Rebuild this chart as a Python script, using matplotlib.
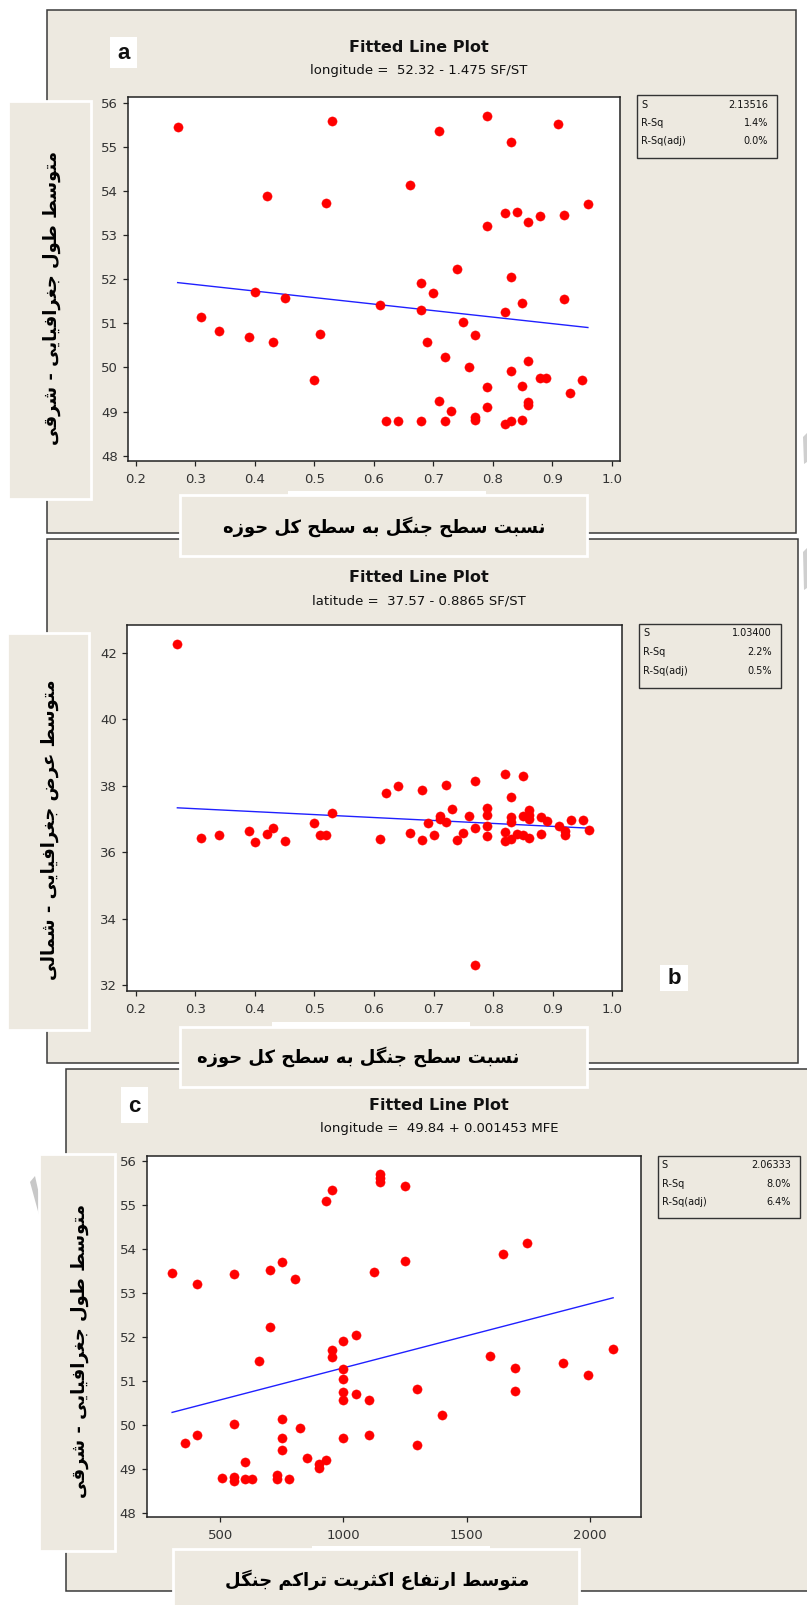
import matplotlib
matplotlib.use("Agg")
import matplotlib.pyplot as plt
from matplotlib.patches import Rectangle, Polygon
import numpy as np

# ---------------- DATA ----------------
# Panel a: SF/ST vs longitude
sfst_a = [0.27, 0.53, 0.71, 0.79, 0.83, 0.91, 0.42, 0.52, 0.66, 0.96,
          0.82, 0.84, 0.86, 0.88, 0.92, 0.79, 0.74, 0.83, 0.68, 0.70,
          0.40, 0.45, 0.61, 0.68, 0.82, 0.85, 0.92, 0.31, 0.34, 0.39,
          0.43, 0.51, 0.75, 0.77, 0.69, 0.72, 0.76, 0.86, 0.83, 0.88,
          0.89, 0.50, 0.95, 0.85, 0.79, 0.93, 0.71, 0.86, 0.86, 0.73,
          0.79, 0.62, 0.64, 0.68, 0.72, 0.77, 0.77, 0.82, 0.83, 0.85]
lon_a = [55.44, 55.59, 55.35, 55.70, 55.10, 55.51, 53.89, 53.73, 54.13, 53.70,
         53.49, 53.52, 53.30, 53.42, 53.45, 53.21, 52.22, 52.06, 51.91, 51.69,
         51.72, 51.57, 51.41, 51.29, 51.26, 51.45, 51.54, 51.14, 50.82, 50.70,
         50.57, 50.76, 51.04, 50.73, 50.57, 50.24, 50.02, 50.14, 49.92, 49.77,
         49.77, 49.71, 49.71, 49.59, 49.55, 49.43, 49.24, 49.22, 49.15, 49.02,
         49.11, 48.78, 48.78, 48.78, 48.78, 48.87, 48.81, 48.72, 48.78, 48.81]
fit_a = (52.32, -1.475)
stats_a = [("S", "2.13516"), ("R-Sq", "1.4%"), ("R-Sq(adj)", "0.0%")]

# Panel b: SF/ST vs latitude
sfst_b = [0.27, 0.31, 0.34, 0.39, 0.40, 0.42, 0.43, 0.45, 0.50, 0.51,
          0.52, 0.53, 0.61, 0.62, 0.64, 0.66, 0.68, 0.68, 0.69, 0.70,
          0.71, 0.71, 0.72, 0.72, 0.73, 0.74, 0.75, 0.76, 0.77, 0.77,
          0.77, 0.79, 0.79, 0.79, 0.79, 0.82, 0.82, 0.82, 0.83, 0.83,
          0.83, 0.83, 0.85, 0.85, 0.84, 0.85, 0.86, 0.86, 0.86, 0.86,
          0.88, 0.88, 0.89, 0.91, 0.92, 0.92, 0.93, 0.95, 0.96]
lat_b = [42.27, 36.42, 36.50, 36.62, 36.29, 36.54, 36.71, 36.34, 36.86, 36.50,
         36.50, 37.16, 36.38, 37.78, 37.99, 36.58, 37.87, 36.37, 36.87, 36.50,
         37.09, 37.00, 38.03, 36.91, 37.30, 36.37, 36.58, 37.09, 38.15, 36.71,
         32.59, 37.34, 37.12, 36.79, 36.49, 38.36, 36.59, 36.33, 37.66, 37.06,
         36.91, 36.39, 38.28, 37.09, 36.55, 36.51, 37.12, 37.26, 37.00, 36.43,
         37.06, 36.54, 36.92, 36.79, 36.63, 36.50, 36.96, 36.96, 36.67]
fit_b = (37.57, -0.8865)
stats_b = [("S", "1.03400"), ("R-Sq", "2.2%"), ("R-Sq(adj)", "0.5%")]

# Panel c: MFE vs longitude
mfe_c = [304, 405, 358, 405, 554, 554, 507, 554, 554, 602,
         602, 630, 656, 703, 703, 751, 804, 751, 751, 751,
         730, 730, 779, 825, 852, 900, 900, 927, 927, 953,
         953, 953, 1000, 1049, 1000, 1000, 1000, 1000, 1049, 1102,
         1000, 1102, 1123, 1150, 1150, 1150, 1251, 1251, 1298, 1298,
         1400, 1595, 1649, 1744, 1698, 1698, 1893, 1995, 2095]
lon_c = [53.45, 53.20, 49.58, 49.77, 53.42, 50.02, 48.80, 48.81, 48.72, 49.15,
         48.78, 48.78, 51.44, 53.51, 52.21, 53.70, 53.30, 50.13, 49.70, 49.42,
         48.86, 48.77, 48.78, 49.92, 49.24, 49.11, 49.02, 49.21, 55.09, 55.34,
         51.70, 51.53, 51.90, 52.05, 51.27, 51.03, 50.74, 50.57, 50.70, 50.57,
         49.70, 49.77, 53.48, 55.69, 55.60, 55.51, 55.43, 53.73, 50.82, 49.55,
         50.23, 51.56, 53.88, 54.13, 51.28, 50.76, 51.41, 51.13, 51.72]
fit_c = (49.84, 0.001453)
stats_c = [("S", "2.06333"), ("R-Sq", "8.0%"), ("R-Sq(adj)", "6.4%")]

titles = ["Fitted Line Plot", "Fitted Line Plot", "Fitted Line Plot"]
subtitles = ["longitude =  52.32 - 1.475 SF/ST",
             "latitude =  37.57 - 0.8865 SF/ST",
             "longitude =  49.84 + 0.001453 MFE"]
ylabels = ["متوسط طول جغرافیایی - شرقی",
           "متوسط عرض جغرافیایی - شمالی",
           "متوسط طول جغرافیایی - شرقی"]
xlabels = ["نسبت سطح جنگل به سطح کل حوزه",
           "نسبت سطح جنگل به سطح کل حوزه",
           "متوسط ارتفاع اکثریت تراکم جنگل"]
letters = ["a", "b", "c"]
xticks_ab = [0.2, 0.3, 0.4, 0.5, 0.6, 0.7, 0.8, 0.9, 1.0]
yticks_a = [48, 49, 50, 51, 52, 53, 54, 55, 56]
yticks_b = [32, 34, 36, 38, 40, 42]
xticks_c = [500, 1000, 1500, 2000]
yticks_c = [48, 49, 50, 51, 52, 53, 54, 55, 56]

# ---------------- Arabic shaping (presentation forms) ----------------
FORMS = {
    '\u0627': ('\uFE8D', '\uFE8E', None, None),
    '\u0628': ('\uFE8F', '\uFE90', '\uFE91', '\uFE92'),
    '\u062A': ('\uFE95', '\uFE96', '\uFE97', '\uFE98'),
    '\u062B': ('\uFE99', '\uFE9A', '\uFE9B', '\uFE9C'),
    '\u062C': ('\uFE9D', '\uFE9E', '\uFE9F', '\uFEA0'),
    '\u062D': ('\uFEA1', '\uFEA2', '\uFEA3', '\uFEA4'),
    '\u062F': ('\uFEA9', '\uFEAA', None, None),
    '\u0631': ('\uFEAD', '\uFEAE', None, None),
    '\u0632': ('\uFEAF', '\uFEB0', None, None),
    '\u0633': ('\uFEB1', '\uFEB2', '\uFEB3', '\uFEB4'),
    '\u0634': ('\uFEB5', '\uFEB6', '\uFEB7', '\uFEB8'),
    '\u0636': ('\uFEBD', '\uFEBE', '\uFEBF', '\uFEC0'),
    '\u0637': ('\uFEC1', '\uFEC2', '\uFEC3', '\uFEC4'),
    '\u0639': ('\uFEC9', '\uFECA', '\uFECB', '\uFECC'),
    '\u063A': ('\uFECD', '\uFECE', '\uFECF', '\uFED0'),
    '\u0641': ('\uFED1', '\uFED2', '\uFED3', '\uFED4'),
    '\u0642': ('\uFED5', '\uFED6', '\uFED7', '\uFED8'),
    '\u06A9': ('\uFB8E', '\uFB8F', '\uFB90', '\uFB91'),
    '\u06AF': ('\uFB92', '\uFB93', '\uFB94', '\uFB95'),
    '\u0644': ('\uFEDD', '\uFEDE', '\uFEDF', '\uFEE0'),
    '\u0645': ('\uFEE1', '\uFEE2', '\uFEE3', '\uFEE4'),
    '\u0646': ('\uFEE5', '\uFEE6', '\uFEE7', '\uFEE8'),
    '\u0647': ('\uFEE9', '\uFEEA', '\uFEEB', '\uFEEC'),
    '\u0648': ('\uFEED', '\uFEEE', None, None),
    '\u06CC': ('\uFBFC', '\uFBFD', '\uFBFE', '\uFBFF'),
}


def shape(text):
    out = []
    n = len(text)
    for i, c in enumerate(text):
        if c not in FORMS:
            out.append(c)
            continue
        iso, fin, ini, med = FORMS[c]
        prev = text[i - 1] if i > 0 else None
        nxt = text[i + 1] if i + 1 < n else None
        jp = prev in FORMS and FORMS[prev][2] is not None
        jn = (nxt in FORMS) and ini is not None
        if jp and jn:
            f = med
        elif jp:
            f = fin
        elif jn:
            f = ini
        else:
            f = iso
        out.append(f)
    return ''.join(reversed(out))


# ---------------- Layout helpers ----------------
W, H = 807, 1605
BG = '#EDE9E0'
fig = plt.figure(figsize=(W / 100, H / 100), dpi=100)
fig.patch.set_facecolor('white')


def fx(x):
    return x / W


def fy(y):
    return 1 - y / H


def rect(x0, y0, x1, y1, fc, ec='none', lw=0, z=1):
    r = Rectangle((fx(x0), fy(y1)), (x1 - x0) / W, (y1 - y0) / H,
                  transform=fig.transFigure, facecolor=fc, edgecolor=ec,
                  linewidth=lw, zorder=z)
    fig.patches.append(r)


def poly(pts, fc, z=1):
    p = Polygon([(fx(a), fy(b)) for a, b in pts], closed=True,
                transform=fig.transFigure, facecolor=fc, edgecolor='none', zorder=z)
    fig.patches.append(p)


panels = [
    dict(outer=(47, 10, 796, 533), plot=(128.3, 97.3, 620, 461),
         xlim=(0.187, 1.014), ylim=(47.88, 56.12), stats=(637, 95, 777, 158),
         letter=(110, 37, 137, 68), title_x=419, title_y=47.5, sub_y=70.6,
         ybox=(8, 101, 91, 499), ytext=(52, 298),
         xbox=(180, 495, 587, 556), xtext=(384, 527),
         strip=(288, 491, 486, 495),
         x=sfst_a, y=lon_a, fit=fit_a, st=stats_a,
         xt=xticks_ab, yt=yticks_a, xfmt='{:.1f}'),
    dict(outer=(47, 539.5, 797.7, 1063.3), plot=(127.3, 625, 621.7, 991),
         xlim=(0.186, 1.0155), ylim=(31.82, 42.83), stats=(639, 624, 781, 688),
         letter=(660, 964.6, 688, 991), title_x=419, title_y=577.5, sub_y=600.6,
         ybox=(6.7, 632.6, 89.3, 1030), ytext=(50, 830),
         xbox=(180, 1026.6, 587, 1087.3), xtext=(358, 1057),
         strip=(272, 1022, 470, 1026.6),
         x=sfst_b, y=lat_b, fit=fit_b, st=stats_b,
         xt=xticks_ab, yt=yticks_b, xfmt='{:.1f}'),
    dict(outer=(65.7, 1069, 808, 1591), plot=(146.7, 1155.7, 640.7, 1517.3),
         xlim=(200.8, 2207), ylim=(47.9, 56.11), stats=(657.7, 1155.6, 800, 1217.5),
         letter=(121, 1087.3, 148.3, 1123), title_x=439, title_y=1106, sub_y=1128.8,
         ybox=(39.3, 1154, 115, 1550.8), ytext=(80, 1351),
         xbox=(173, 1549, 579, 1606), xtext=(377, 1580),
         strip=(312, 1546, 490, 1549),
         x=mfe_c, y=lon_c, fit=fit_c, st=stats_c,
         xt=xticks_c, yt=yticks_c, xfmt='{:.0f}'),
]

PFONT = ['DejaVu Sans']

for i, P in enumerate(panels):
    x0, y0, x1, y1 = P['outer']
    rect(x0, y0, x1, y1, BG, ec='#3a3a3a', lw=1.1, z=1)

for i, P in enumerate(panels):
    sx0, sy0, sx1, sy1 = P['strip']
    rect(sx0, sy0, sx1, sy1, 'white', z=2)
    bx = P['ybox']
    rect(*bx, BG, ec='white', lw=2.0, z=3)
    bx = P['xbox']
    rect(*bx, BG, ec='white', lw=2.0, z=3)
    lx0, ly0, lx1, ly1 = P['letter']
    rect(lx0, ly0, lx1, ly1, 'white', z=3)
    fig.text(fx((lx0 + lx1) / 2), fy((ly0 + ly1) / 2 + 1), letters[i],
             ha='center', va='center', fontsize=16, fontweight='bold',
             family='Liberation Sans', color='#111111', zorder=6)
    s0, t0, s1, t1 = P['stats']
    rect(s0, t0, s1, t1, BG, ec='#333333', lw=1.0, z=3)
    for k, (lab, val) in enumerate(P['st']):
        yy = t0 + 9.5 + k * 18.5
        fig.text(fx(s0 + 4), fy(yy), lab, ha='left', va='center',
                 fontsize=7, color='#111111', zorder=6)
        fig.text(fx(s1 - 9), fy(yy), val, ha='right', va='center',
                 fontsize=7, color='#111111', zorder=6)
    fig.text(fx(P['title_x']), fy(P['title_y']), titles[i], ha='center',
             va='center', fontsize=11.5, fontweight='bold', color='#111111', zorder=6)
    fig.text(fx(P['title_x']), fy(P['sub_y']), subtitles[i], ha='center',
             va='center', fontsize=9.5, color='#111111', zorder=6)
    fig.text(fx(P['ytext'][0]), fy(P['ytext'][1]), shape(ylabels[i]),
             rotation=90, ha='center', va='center', fontsize=13,
             fontweight='bold', family=PFONT, color='black', zorder=6)
    fig.text(fx(P['xtext'][0]), fy(P['xtext'][1]), shape(xlabels[i]),
             ha='center', va='center', fontsize=13,
             fontweight='bold', family=PFONT, color='black', zorder=6)

    px0, py0, px1, py1 = P['plot']
    ax = fig.add_axes([fx(px0), fy(py1), (px1 - px0) / W, (py1 - py0) / H])
    ax.set_zorder(5)
    ax.set_facecolor('white')
    ax.scatter(P['x'], P['y'], s=44, color='#FF0000', edgecolors='#FF0000',
               linewidths=0.3, zorder=3)
    b0, b1 = P['fit']
    xs = np.array([min(P['x']), max(P['x'])])
    ax.plot(xs, b0 + b1 * xs, color='#2020FF', lw=1.0, zorder=2)
    ax.set_xlim(*P['xlim'])
    ax.set_ylim(*P['ylim'])
    ax.set_xticks(P['xt'])
    ax.set_xticklabels([P['xfmt'].format(v) for v in P['xt']])
    ax.set_yticks(P['yt'])
    ax.set_yticklabels([str(v) for v in P['yt']])
    for sp in ax.spines.values():
        sp.set_color('#222222')
        sp.set_linewidth(1.1)
    ax.tick_params(axis='both', direction='out', length=3.3, width=0.9,
                   colors='#222222', labelsize=9.5, labelcolor='#333333')
    ax.tick_params(axis='x', pad=5.0)
    ax.tick_params(axis='y', pad=4.0)

poly([(30, 1182), (35, 1176), (41, 1203), (39, 1215)], '#C8C8C8', z=2)
poly([(803, 437), (807, 433), (807, 462), (804, 464)], '#CFCFCF', z=2)
poly([(803, 552), (807, 548), (807, 588), (804, 590)], '#CFCFCF', z=2)

fig.savefig('out.png', dpi=100, facecolor='white')
